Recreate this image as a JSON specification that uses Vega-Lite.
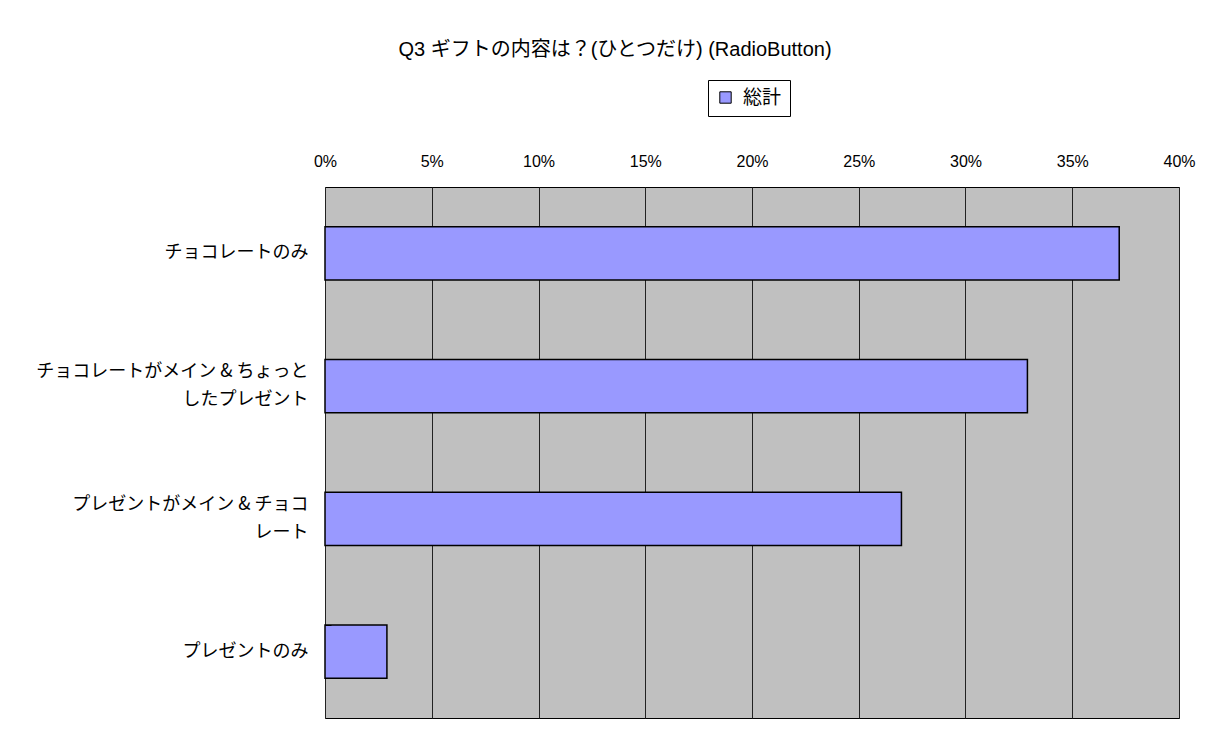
{
  "$schema": "https://vega.github.io/schema/vega-lite/v6.json",
  "autosize": {"type": "none"},
  "padding": {"left": 325, "top": 187, "right": 39, "bottom": 15},
  "width": 854,
  "height": 531,
  "background": "white",
  "title": {
    "text": "Q3 ギフトの内容は？(ひとつだけ) (RadioButton)",
    "font": "Liberation Sans, Noto Sans CJK JP",
    "fontSize": 20,
    "fontWeight": "normal",
    "color": "black",
    "anchor": "middle",
    "frame": "group",
    "dx": -137,
    "offset": 20
  },
  "data": {
    "values": [
      {"category": "チョコレートのみ", "value": 0.372},
      {"category": "チョコレートがメイン & ちょっと\nしたプレゼント", "value": 0.329},
      {"category": "プレゼントがメイン & チョコ\nレート", "value": 0.270},
      {"category": "プレゼントのみ", "value": 0.029}
    ]
  },
  "mark": {"type": "bar", "stroke": "black", "strokeWidth": 1.5},
  "encoding": {
    "y": {
      "field": "category",
      "type": "nominal",
      "sort": null,
      "scale": {"paddingInner": 0.6, "paddingOuter": 0.3},
      "axis": {
        "title": null,
        "domain": false,
        "ticks": true,
        "zindex": 1,
        "offset": -6,
        "bandPosition": 0,
        "tickSize": 6,
        "tickColor": "black",
        "labelPadding": 17,
        "labelExpr": "split(datum.label, '\\n')",
        "labelOffset": {"condition": {"test": "indexof(datum.value, '\\n') >= 0", "value": -14}, "value": 0},
        "labelFont": "Noto Sans CJK JP",
        "labelFontSize": 18,
        "labelLineHeight": 28,
        "labelColor": "black",
        "labelLimit": 400,
        "grid": false
      }
    },
    "x": {
      "field": "value",
      "type": "quantitative",
      "scale": {"domain": [0, 0.4], "nice": false},
      "axis": {
        "orient": "top",
        "title": null,
        "format": ".0%",
        "values": [0, 0.05, 0.1, 0.15, 0.2, 0.25, 0.3, 0.35, 0.4],
        "domain": false,
        "ticks": false,
        "labelFlush": false,
        "labelPadding": 18,
        "labelFont": "Liberation Sans",
        "labelFontSize": 16,
        "labelColor": "black",
        "grid": true,
        "gridColor": "#222222",
        "gridOpacity": 1,
        "gridWidth": 1
      }
    },
    "color": {
      "datum": "総計",
      "type": "nominal",
      "scale": {"range": ["#9999FF"]},
      "legend": {
        "title": null,
        "orient": "none",
        "legendX": 383,
        "legendY": -107,
        "strokeColor": "black",
        "fillColor": "white",
        "padding": 8,
        "symbolType": "square",
        "symbolSize": 130,
        "symbolStrokeColor": "black",
        "symbolStrokeWidth": 1,
        "labelOffset": 8,
        "labelFont": "Noto Sans CJK JP",
        "labelFontSize": 19,
        "labelColor": "black"
      }
    }
  },
  "config": {
    "view": {"fill": "#C0C0C0", "stroke": "black", "strokeWidth": 1}
  }
}
